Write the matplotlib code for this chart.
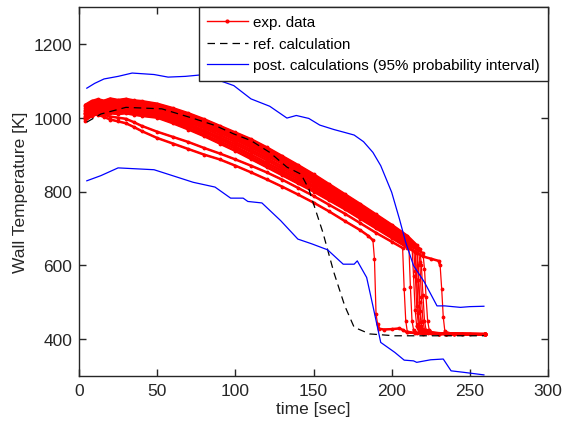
import numpy as np
import matplotlib
matplotlib.use("Agg")
import matplotlib.pyplot as plt
from matplotlib.lines import Line2D

plt.rcParams['font.family'] = ['Liberation Sans', 'DejaVu Sans']

# ---------------- data ----------------
t_pre = [4, 8, 12, 16, 20, 25, 30, 35, 40, 50, 60, 70, 80, 90, 100, 110, 120,
         130, 140, 150, 160, 170, 180]

# experimental curves: values at t_pre, then individual tails (time, temp)
expL2_pre = [1000, 1008, 1008, 1002, 995, 990, 985, 975, 964, 945, 930, 915, 900,
             887, 870, 852, 833, 813, 792, 770, 746, 720, 695]
expL2_tail_t = [185, 188, 189, 190, 191, 192, 195, 200, 205, 207, 210, 220, 230, 240, 250, 260]
expL2_tail_T = [680, 668, 617, 468, 441, 428, 426, 427, 429, 425, 418, 415, 414, 413, 413, 413]

expL1_pre = [1012, 1015, 1012, 1008, 1003, 1000, 997, 988, 978, 962, 948, 934, 918,
             903, 887, 870, 852, 832, 810, 788, 764, 740, 714]
expL1_tail_t = [190, 200, 207, 208, 209, 210, 215, 230, 260]
expL1_tail_T = [688, 664, 647, 536, 450, 420, 416, 414, 413]

expB1_pre = [1035, 1045, 1050, 1046, 1052, 1048, 1051, 1047, 1045, 1038, 1026, 1012, 996,
             978, 960, 942, 920, 896, 872, 847, 820, 793, 766]
expB1_tail_t = [190, 200, 210, 216, 217, 218, 219, 220, 222, 230, 245, 260]
expB1_tail_T = [738, 710, 680, 655, 600, 500, 445, 425, 418, 415, 414, 414]

expB2_pre = [1031, 1041, 1046, 1042, 1048, 1044, 1047, 1043, 1041, 1034, 1022, 1008, 992,
             974, 955, 936, 914, 891, 867, 843, 816, 789, 762]
expB2_tail_t = [190, 200, 210, 215, 216, 217, 218, 220, 235, 260]
expB2_tail_T = [735, 707, 677, 650, 560, 470, 430, 418, 414, 413]

expB3_pre = [1026, 1037, 1042, 1038, 1044, 1040, 1043, 1039, 1037, 1030, 1018, 1004, 988,
             970, 951, 931, 909, 886, 862, 838, 812, 785, 758]
expB3_tail_t = [190, 200, 210, 217, 218, 219, 220, 221, 223, 240, 260]
expB3_tail_T = [731, 703, 674, 646, 610, 513, 450, 425, 417, 414, 413]

expB4_pre = [1022, 1033, 1038, 1035, 1040, 1037, 1039, 1035, 1033, 1026, 1014, 1000, 984,
             966, 947, 926, 904, 881, 858, 834, 808, 781, 754]
expB4_tail_t = [190, 200, 210, 218, 219, 220, 221, 222, 225, 240, 260]
expB4_tail_T = [727, 700, 671, 645, 600, 520, 450, 425, 416, 414, 413]

expB5_pre = [1018, 1029, 1034, 1031, 1036, 1033, 1035, 1031, 1029, 1022, 1010, 996, 979,
             961, 942, 921, 900, 877, 854, 830, 804, 778, 751]
expB5_tail_t = [190, 200, 210, 216, 217, 218, 219, 221, 235, 260]
expB5_tail_T = [723, 696, 667, 648, 560, 475, 435, 418, 414, 413]

expB6_pre = [1014, 1025, 1030, 1027, 1032, 1029, 1031, 1027, 1025, 1020, 1007, 993, 977,
             959, 940, 919, 897, 875, 851, 828, 802, 776, 749]
expB6_tail_t = [190, 200, 210, 214, 215, 216, 217, 219, 235, 260]
expB6_tail_T = [722, 695, 666, 652, 585, 490, 440, 420, 414, 413]

expB7_pre = [1009, 1020, 1026, 1023, 1028, 1025, 1027, 1024, 1021, 1016, 1003, 988, 972,
             953, 934, 913, 891, 868, 845, 822, 797, 771, 744]
expB7_tail_t = [190, 200, 210, 213, 214, 215, 216, 218, 235, 260]
expB7_tail_T = [718, 691, 662, 652, 570, 480, 435, 418, 414, 413]

expB8_pre = [1005, 1016, 1022, 1019, 1024, 1021, 1023, 1020, 1017, 1012, 998, 983, 966,
             947, 928, 907, 885, 862, 839, 816, 792, 766, 740]
expB8_tail_t = [190, 200, 210, 220, 221, 222, 223, 224, 226, 240, 260]
expB8_tail_T = [713, 686, 659, 633, 590, 513, 450, 425, 417, 414, 413]

expB9_pre = [1001, 1012, 1018, 1016, 1020, 1017, 1019, 1016, 1013, 1008, 994, 978, 961,
             942, 922, 900, 878, 856, 833, 811, 786, 761, 735]
expB9_tail_t = [190, 200, 210, 211, 212, 213, 214, 216, 230, 260]
expB9_tail_T = [709, 682, 655, 653, 540, 450, 425, 417, 414, 413]

expB10_pre = [996, 1008, 1014, 1012, 1016, 1014, 1016, 1012, 1009, 1004, 989, 973, 955,
              936, 916, 894, 872, 850, 827, 805, 781, 757, 730]
expB10_tail_t = [190, 200, 210, 216, 220, 225, 230, 231, 232, 233, 234, 236, 245, 260]
expB10_tail_T = [704, 678, 651, 634, 624, 618, 612, 600, 536, 460, 422, 416, 414, 414]

expB11_pre = [992, 1004, 1010, 1008, 1012, 1010, 1012, 1008, 1005, 1000, 985, 968, 950,
              930, 910, 888, 866, 844, 822, 800, 776, 752, 726]
expB11_tail_t = [190, 200, 210, 215, 216, 217, 218, 220, 235, 260]
expB11_tail_T = [700, 674, 648, 636, 560, 470, 430, 418, 414, 413]

ref_t = [5, 14, 30, 53, 74, 87, 99, 110, 122, 133, 142, 147, 149, 156, 163, 170,
         176, 186, 202, 259]
ref_T = [988, 1010, 1028, 1024, 997, 979, 956, 938, 906, 866, 847, 807, 780, 689,
         581, 490, 432, 414, 409, 409]

up_t = [5, 10, 16, 25, 34, 48, 57, 68, 78, 87, 99, 110, 122, 133, 139, 147, 154,
        163, 170, 176, 182, 188, 193, 200, 205, 209, 214, 221, 229, 234, 244, 250, 259]
up_T = [1080, 1093, 1105, 1112, 1121, 1117, 1110, 1112, 1116, 1105, 1087, 1051, 1031,
        999, 1006, 998, 980, 968, 960, 953, 935, 906, 870, 798, 725, 662, 599, 554,
        490, 490, 486, 488, 489]

lo_t = [5, 14, 25, 48, 62, 73, 87, 97, 105, 108, 117, 129, 140, 149, 159, 169, 176,
        178, 184, 188, 193, 202, 208, 214, 216, 225, 233, 238, 246, 259]
lo_T = [829, 843, 864, 859, 840, 825, 812, 782, 782, 773, 769, 721, 671, 658, 642,
        603, 603, 612, 567, 490, 391, 364, 343, 341, 337, 344, 346, 314, 310, 303]

exp_curves = [
    (expL2_pre, expL2_tail_t, expL2_tail_T),
    (expL1_pre, expL1_tail_t, expL1_tail_T),
    (expB1_pre, expB1_tail_t, expB1_tail_T),
    (expB2_pre, expB2_tail_t, expB2_tail_T),
    (expB3_pre, expB3_tail_t, expB3_tail_T),
    (expB4_pre, expB4_tail_t, expB4_tail_T),
    (expB5_pre, expB5_tail_t, expB5_tail_T),
    (expB6_pre, expB6_tail_t, expB6_tail_T),
    (expB7_pre, expB7_tail_t, expB7_tail_T),
    (expB8_pre, expB8_tail_t, expB8_tail_T),
    (expB9_pre, expB9_tail_t, expB9_tail_T),
    (expB10_pre, expB10_tail_t, expB10_tail_T),
    (expB11_pre, expB11_tail_t, expB11_tail_T),
]

# ---------------- plot ----------------
W, H = 565, 431
fig = plt.figure(figsize=(W / 100, H / 100), dpi=100)
ax = fig.add_axes([79 / W, 1 - 377 / H, (548 - 79) / W, (377 - 8) / H])

for pre, tt, TT in exp_curves:
    t = np.array(t_pre + tt, dtype=float)
    T = np.array(pre + TT, dtype=float)
    slope = np.abs(np.diff(T) / np.diff(t))
    jumps = np.where(slope > 15)[0] + 1
    t_th = np.insert(t, jumps, np.nan)
    T_th = np.insert(T, jumps, np.nan)
    ax.plot(t_th, T_th, color='red', lw=1.8, solid_capstyle='round',
            solid_joinstyle='round', zorder=2)
    ax.plot(t, T, color='red', lw=0.9, marker='.', ms=3.5, zorder=2)

ax.plot(ref_t, ref_T, color='black', lw=0.9, ls=(0, (6, 4)), zorder=3)
ax.plot(up_t, up_T, color='blue', lw=0.9, zorder=4)
ax.plot(lo_t, lo_T, color='blue', lw=0.9, zorder=4)

ax.set_xlim(0, 300)
ax.set_ylim(300, 1300)
ax.set_xticks([0, 50, 100, 150, 200, 250, 300])
ax.set_yticks([400, 600, 800, 1000, 1200])

dark = '#262626'
for s in ax.spines.values():
    s.set_color(dark)
    s.set_linewidth(1.0)
ax.tick_params(direction='in', length=5, width=1.0, color=dark, labelcolor=dark,
               labelsize=12.5, top=True, right=True, pad=5)
ax.set_xlabel('time [sec]', fontsize=12.5, color=dark, labelpad=2)
ax.set_ylabel('Wall Temperature [K]', fontsize=12.5, color=dark, labelpad=4)

handles = [
    Line2D([], [], color='red', lw=1.0, marker='.', ms=4),
    Line2D([], [], color='black', lw=0.9, ls=(0, (6, 4))),
    Line2D([], [], color='blue', lw=0.9),
]
labels = ['exp. data', 'ref. calculation',
          'post. calculations (95% probability interval)']
leg = ax.legend(handles, labels, loc='upper right', bbox_to_anchor=(1, 1),
                borderaxespad=0, fancybox=False, framealpha=1, edgecolor=dark,
                fontsize=10.9, handlelength=2.7, handletextpad=0.35,
                labelspacing=0.5, borderpad=0.55, numpoints=1)
leg.get_frame().set_linewidth(1.0)

fig.savefig('out.png', dpi=100)
